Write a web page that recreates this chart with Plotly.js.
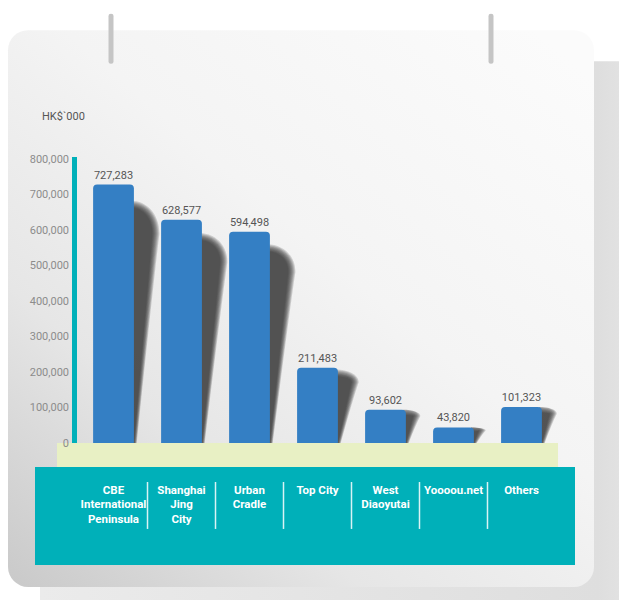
<!DOCTYPE html>
<html>
<head>
<meta charset="utf-8">
<script src="https://cdn.plot.ly/plotly-3.0.1.min.js"></script>
<style>
html,body{margin:0;padding:0;background:#fff;}
#chart{width:619px;height:600px;}
</style>
</head>
<body>
<div id="chart"></div>
<script>
// ---- data ----
const categories = [
  "CBE<br>International<br>Peninsula",
  "Shanghai<br>Jing<br>City",
  "Urban<br>Cradle",
  "Top City",
  "West<br>Diaoyutai",
  "Yoooou.net",
  "Others"
];
const values = [727283, 628577, 594498, 211483, 93602, 43820, 101323];
const yTickVals = [0, 100000, 200000, 300000, 400000, 500000, 600000, 700000, 800000];
const unitLabel = "HK$`000";

// ---- geometry ----
const W = 619, H = 600;
const yRange = [0, 805000];
const pxPer100k = 35.55;
const B = 157;
const PH = yRange[1] / 100000 * pxPer100k;
const T = H - B - PH;
const L = 77, R = 61;
const PW = W - L - R;
const xRange = [-0.537, 6.537];
const pxPerX = PW / (xRange[1] - xRange[0]);
const valPerPx = (yRange[1] - yRange[0]) / PH;
const px2x = px => (px - L) / PW;
const py2y = py => (H - B - py) / PH;

const idx = categories.map((c, i) => i);

// decorative card background (svg)
const svg = `<svg xmlns="http://www.w3.org/2000/svg" width="619" height="600" viewBox="0 0 619 600">
<defs>
<linearGradient id="card" x1="0" y1="1" x2="0.9" y2="0">
<stop offset="0" stop-color="#c9c9c9"/>
<stop offset="0.3" stop-color="#e6e6e6"/>
<stop offset="0.6" stop-color="#f4f4f4"/>
<stop offset="1" stop-color="#fbfbfb"/>
</linearGradient>
<linearGradient id="sh" x1="0" y1="0" x2="1" y2="0">
<stop offset="0" stop-color="#ebebeb"/>
<stop offset="0.9" stop-color="#dedede"/>
<stop offset="1" stop-color="#e8e8e8"/>
</linearGradient>
</defs>
<rect x="40" y="61" width="620" height="580" rx="18" fill="url(#sh)"/>
<rect x="8" y="30" width="586" height="557" rx="20" fill="url(#card)"/>
<line x1="111" y1="16" x2="111" y2="61" stroke="#c5c5c5" stroke-width="5" stroke-linecap="round"/>
<line x1="491" y1="16" x2="491" y2="61" stroke="#c5c5c5" stroke-width="5" stroke-linecap="round"/>
</svg>`;
const svgSrc = "data:image/svg+xml;charset=utf-8," + encodeURIComponent(svg);

// blurred-looking shadows behind bars, derived from bar values
function shadowPath(i, v, grow) {
  const hpx = v / valPerPx;
  const w = Math.min(21, 5 + hpx * 0.15) + grow;
  const a = Math.max(0, 0.08 * hpx - grow);
  const p = 0.19 * hpx;
  const xr = i + 0.3;
  const X = dx => (xr + dx / pxPerX).toFixed(4);
  const Y = dy => Math.max(0, v - dy * valPerPx).toFixed(1);
  const bw = Math.max(0, 1 + grow * 0.4);
  return `M ${X(-3)},${Y(a)} C ${X(w * 0.5)},${Y(a)} ${X(w)},${Y(a + (p - a) * 0.4)} ${X(w)},${Y(p)} ` +
         `Q ${X(w * 0.7)},${Y(p + (hpx - p) * 0.3)} ${X(bw)},${Y(hpx)} L ${X(-3)},${Y(hpx)} Z`;
}
const shadowShapes = [];
idx.forEach(i => {
  [4.5, 3.5, 2.5, 1.5, 0.5, -0.5, -1.5, -2.5].forEach(g => {
    shadowShapes.push({
      type: 'path', xref: 'x', yref: 'y', layer: 'below',
      path: shadowPath(i, values[i], g),
      fillcolor: 'rgba(50,50,50,0.19)', line: {width: 0}
    });
  });
});

const sepShapes = idx.slice(0, -1).map(i => ({
  type: 'line', xref: 'x', yref: 'paper', layer: 'below',
  x0: i + 0.5, x1: i + 0.5, y0: py2y(482), y1: py2y(529),
  line: {color: 'rgba(255,255,255,0.85)', width: 1.5}
}));

const bgShapes = [
  {type: 'rect', xref: 'paper', yref: 'paper', layer: 'below',
   x0: px2x(57), x1: px2x(558), y0: py2y(443), y1: py2y(467),
   fillcolor: '#e8f0c4', line: {width: 0}},
  {type: 'rect', xref: 'paper', yref: 'paper', layer: 'below',
   x0: px2x(35), x1: px2x(575), y0: py2y(467), y1: py2y(565),
   fillcolor: '#00b0b9', line: {width: 0}},
  {type: 'rect', xref: 'paper', yref: 'y', layer: 'below',
   x0: px2x(72), x1: px2x(77), y0: 0, y1: yRange[1],
   fillcolor: '#00b0b9', line: {width: 0}}
];

const trace = {
  type: 'bar',
  x: idx,
  y: values,
  width: 0.6,
  marker: {color: '#347fc4', cornerradius: 4, line: {width: 0}},
  text: values.map(v => v.toLocaleString('en-US')),
  textposition: 'outside',
  textfont: {family: 'Roboto, sans-serif', size: 11, color: '#555555'},
  cliponaxis: false,
  hoverinfo: 'skip'
};

const layout = {
  width: W, height: H, autosize: false,
  margin: {l: L, r: R, t: T, b: B, pad: 0},
  paper_bgcolor: '#ffffff',
  plot_bgcolor: 'rgba(0,0,0,0)',
  showlegend: false,
  hovermode: false,
  xaxis: {
    range: xRange, tickmode: 'array', tickvals: idx, ticktext: categories,
    showgrid: false, zeroline: false, showline: false, ticks: '',
    ticklabelstandoff: 38,
    tickfont: {family: 'Roboto, sans-serif', size: 11.5, color: '#ffffff', weight: 'bold'},
    fixedrange: true
  },
  yaxis: {
    range: yRange, tickmode: 'array', tickvals: yTickVals,
    ticktext: yTickVals.map(v => v.toLocaleString('en-US')),
    showgrid: false, zeroline: false, showline: false, ticks: '',
    ticklabelstandoff: 7,
    tickfont: {family: 'Roboto, sans-serif', size: 11, color: '#8c8c8c'},
    fixedrange: true
  },
  images: [{
    source: svgSrc, xref: 'paper', yref: 'paper',
    x: px2x(0), y: py2y(0), sizex: W / PW, sizey: H / PH,
    xanchor: 'left', yanchor: 'top', sizing: 'stretch', layer: 'below'
  }],
  shapes: bgShapes.concat(sepShapes, shadowShapes),
  annotations: [{
    text: unitLabel, xref: 'paper', yref: 'paper',
    x: px2x(40), y: py2y(116), xanchor: 'left', yanchor: 'middle',
    showarrow: false,
    font: {family: 'Roboto, sans-serif', size: 11, color: '#555555'}
  }]
};

Plotly.newPlot('chart', [trace], layout, {displayModeBar: false, staticPlot: true});
</script>
</body>
</html>
